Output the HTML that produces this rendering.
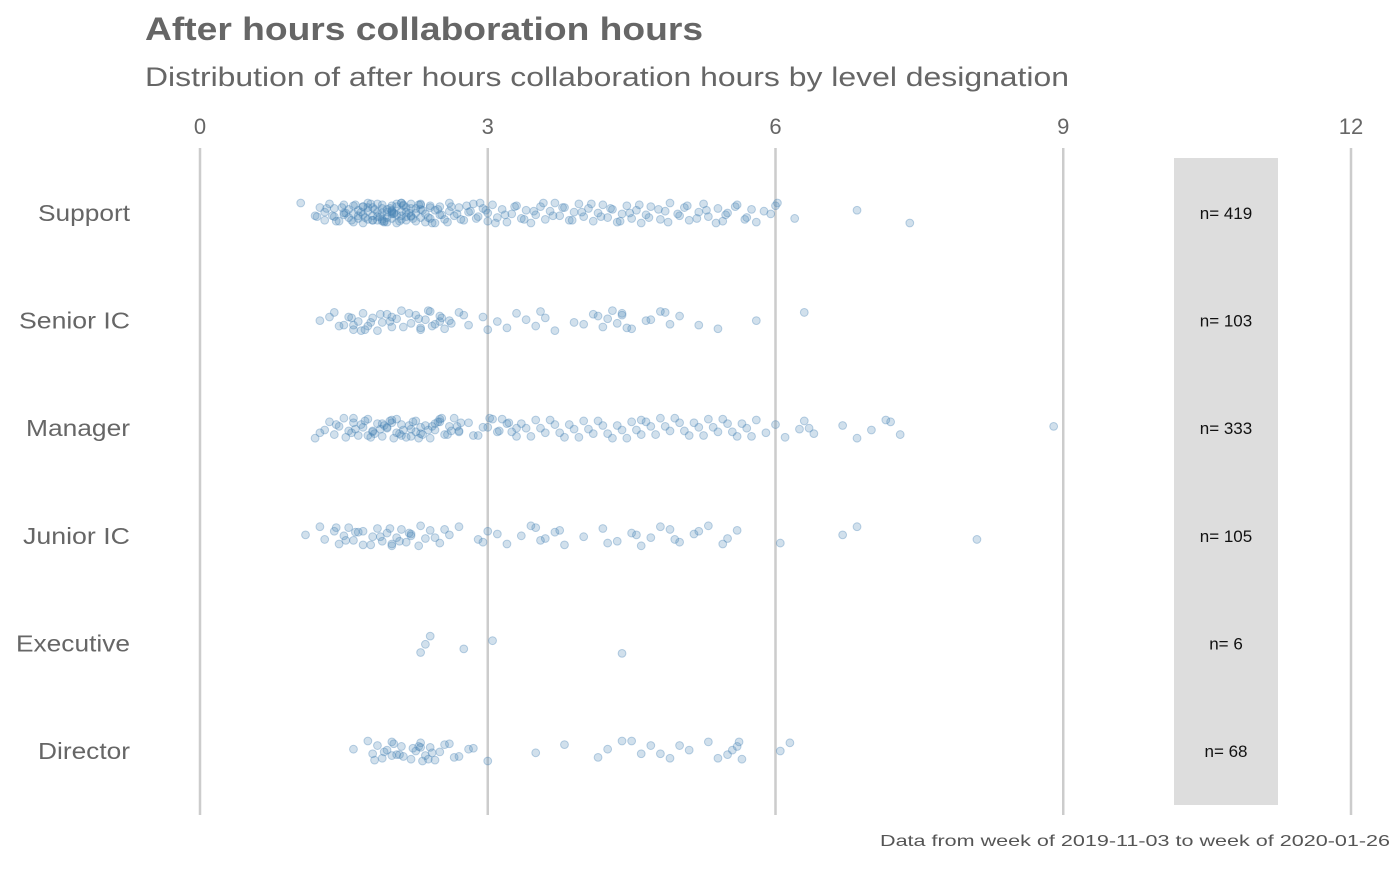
<!DOCTYPE html>
<html><head><meta charset="utf-8"><style>
body{margin:0;background:#fff;font-family:"Liberation Sans",sans-serif;}
</style></head><body>
<svg id="chart" width="1400" height="866" xmlns="http://www.w3.org/2000/svg" font-family="Liberation Sans, sans-serif">
<text x="145" y="40" font-size="32" font-weight="bold" fill="#666" textLength="558" lengthAdjust="spacingAndGlyphs">After hours collaboration hours</text>
<text x="145" y="86" font-size="27" fill="#666" textLength="924" lengthAdjust="spacingAndGlyphs">Distribution of after hours collaboration hours by level designation</text>
<rect x="1174" y="158" width="104" height="647" fill="#dddddd"/>
<g id="grid"></g><g id="ylabels"></g><g id="pts"></g><g id="counts"></g>
<text x="1390" y="846" font-size="16" fill="#555" text-anchor="end" textLength="510" lengthAdjust="spacingAndGlyphs">Data from week of 2019-11-03 to week of 2020-01-26</text>
</svg>
<script>
const xTicks=[0,3,6,9,12];
const categories=["Support","Senior IC","Manager","Junior IC","Executive","Director"];
const counts=[419,103,333,105,6,68];
const support=[1.05,1.2,1.25,1.3,1.3,1.35,1.4,1.4,1.45,1.5,1.5,1.55,1.55,1.6,1.6,1.6,1.65,1.65,1.7,1.7,1.7,1.75,1.75,1.75,1.8,1.8,1.8,1.85,1.85,1.85,1.9,1.9,1.9,1.9,1.95,1.95,1.95,2.0,2.0,2.0,2.0,2.05,2.05,2.05,2.1,2.1,2.1,2.1,2.15,2.15,2.15,2.2,2.2,2.2,2.25,2.25,2.3,2.3,2.3,2.35,2.35,2.4,2.4,2.45,2.45,2.5,2.5,2.55,2.6,2.6,2.65,2.7,2.75,2.8,2.85,2.9,2.95,3.0,3.0,3.05,3.1,3.15,3.2,3.25,3.3,3.35,3.4,3.45,3.5,3.55,3.6,3.65,3.7,3.75,3.8,3.85,3.9,3.95,4.0,4.05,4.1,4.15,4.2,4.25,4.3,4.35,4.4,4.45,4.5,4.55,4.6,4.65,4.7,4.8,4.85,4.9,5.0,5.05,5.1,5.2,5.25,5.3,5.4,5.45,5.5,5.6,5.7,5.75,5.8,5.95,6.0,6.2,6.85,7.4,1.5,1.7,1.9,2.0,2.1,2.2,2.4,1.8,2.0,2.3,1.22,1.32,1.42,1.52,1.62,1.72,1.82,1.92,2.02,2.12,2.22,2.32,2.42,2.52,2.62,2.72,2.82,2.92,1.38,1.48,1.58,1.68,1.78,1.88,1.98,2.08,2.18,2.28,2.38,2.48,2.58,2.68,2.78,2.88,2.98,3.08,3.18,3.28,3.38,3.48,3.58,3.68,3.78,3.88,3.98,4.08,4.18,4.28,4.38,4.48,4.58,4.68,4.78,4.88,4.98,5.08,5.18,5.28,5.38,5.48,5.58,5.68,5.88,6.02,1.65,1.75,1.85,1.95,2.05,2.15,2.25,1.92,2.02,2.12];
const seniorIC=[1.25,1.4,1.5,1.55,1.6,1.65,1.7,1.75,1.8,1.85,1.9,1.95,2.0,2.05,2.1,2.2,2.25,2.3,2.35,2.4,2.45,2.5,2.55,2.6,2.7,2.8,2.95,3.0,3.1,3.3,3.5,3.6,3.7,3.9,4.1,4.2,4.25,4.3,4.35,4.4,4.45,4.7,4.8,4.9,5.0,5.4,5.8,6.3,1.6,2.0,2.3,2.5,4.4,1.45,1.58,1.68,1.78,1.88,2.12,2.28,2.38,2.62,2.75,3.2,3.4,3.55,4.0,4.15,4.5,4.65,4.85,5.2,1.35,1.72,1.98,2.18,2.42,2.52];
const manager=[1.2,1.3,1.35,1.4,1.45,1.5,1.55,1.6,1.65,1.7,1.75,1.8,1.85,1.9,1.95,2.0,2.05,2.1,2.15,2.2,2.25,2.3,2.35,2.4,2.45,2.5,2.55,2.6,2.65,2.7,2.8,2.9,3.0,3.05,3.1,3.2,3.3,3.4,3.5,3.6,3.7,3.8,3.9,4.0,4.1,4.2,4.3,4.4,4.5,4.6,4.7,4.8,4.9,5.0,5.1,5.2,5.3,5.4,5.5,5.6,5.7,5.8,5.9,6.0,6.1,6.25,6.3,6.4,6.7,6.85,7.0,7.2,7.3,8.9,1.6,1.8,2.0,2.1,2.3,2.5,2.7,1.9,2.2,3.3,4.6,1.25,1.42,1.52,1.62,1.72,1.82,1.92,2.02,2.12,2.22,2.32,2.42,2.52,2.62,2.72,2.85,2.95,3.15,3.25,3.35,3.45,3.55,3.65,3.75,3.85,3.95,4.05,4.15,4.25,4.35,4.45,4.55,4.65,4.75,4.85,4.95,5.05,5.15,5.25,5.35,5.45,5.55,5.65,5.75,6.35,7.15,1.58,1.68,1.78,1.88,1.98,2.08,2.18,2.28,2.38,2.48,2.58,2.68,3.02,3.12,3.22,1.75,1.95,2.05,2.25,2.45];
const juniorIC=[1.1,1.25,1.3,1.4,1.45,1.5,1.55,1.6,1.65,1.7,1.8,1.85,1.9,1.95,2.0,2.05,2.1,2.15,2.2,2.3,2.35,2.4,2.5,2.6,2.7,2.9,3.0,3.2,3.35,3.5,3.55,3.7,3.8,4.0,4.2,4.35,4.5,4.6,4.7,4.9,5.0,5.15,5.3,5.5,5.6,6.05,6.7,6.85,8.1,1.7,2.0,2.2,1.42,1.52,1.62,1.78,1.88,1.98,2.08,2.18,2.28,2.45,2.55,2.95,3.1,3.45,3.6,3.75,4.25,4.55,4.8,4.95,5.2,5.45];
const executive=[2.3,2.35,2.4,2.75,3.05,4.4];
const director=[1.6,1.75,1.8,1.85,1.9,1.95,2.0,2.05,2.1,2.2,2.25,2.3,2.35,2.4,2.45,2.5,2.6,2.7,2.85,3.0,3.5,3.8,4.15,4.25,4.4,4.6,4.7,4.9,5.1,5.3,5.5,5.6,5.65,6.05,6.15,2.0,2.3,1.82,1.92,2.02,2.12,2.22,2.32,2.42,2.55,2.65,2.8,4.5,4.8,5.0,5.4,5.55,5.62,2.08,2.28,2.38];
const groups=[support,seniorIC,manager,juniorIC,executive,director];
const labelWidths=[92,111,104,107,114,92];
const NS="http://www.w3.org/2000/svg";
const xS=v=>200+v*(1351-200)/12;
const yS=i=>213+i*107.6;
function mk(t,a,p){const e=document.createElementNS(NS,t);for(const k in a)e.setAttribute(k,a[k]);p.appendChild(e);return e;}
const grid=document.getElementById('grid');
xTicks.forEach(t=>{
 const l=mk('line',{x1:xS(t),x2:xS(t),y1:148,y2:815,stroke:'#cccccc','stroke-width':2.5},grid);
 
 
 const tx=mk('text',{x:xS(t),y:134,'font-size':22,fill:'#666','text-anchor':'middle'},grid);
 tx.textContent=t;
 
 
});
const yl=document.getElementById('ylabels'),pts=document.getElementById('pts'),cg=document.getElementById('counts');
categories.forEach((c,i)=>{
 const tx=mk('text',{x:130,y:yS(i)+8,'font-size':23,fill:'#666','text-anchor':'end',textLength:labelWidths[i],lengthAdjust:'spacingAndGlyphs'},yl);
 tx.textContent=c;
 
 
 const ct=mk('text',{x:1226,y:yS(i)+6,'font-size':17,fill:'#111','text-anchor':'middle'},cg);
 ct.textContent='n= '+counts[i];
 
 
 groups[i].forEach((v,j)=>{
  const jit=(((j*37+i*11)%23)/22-0.5)*20;
  const p=mk('circle',{cx:xS(v),cy:yS(i)+jit,r:3.9,fill:'rgba(70,130,180,0.25)',stroke:'rgba(70,130,180,0.35)','stroke-width':1},pts);
  
  
 });
});
</script>
</body></html>
